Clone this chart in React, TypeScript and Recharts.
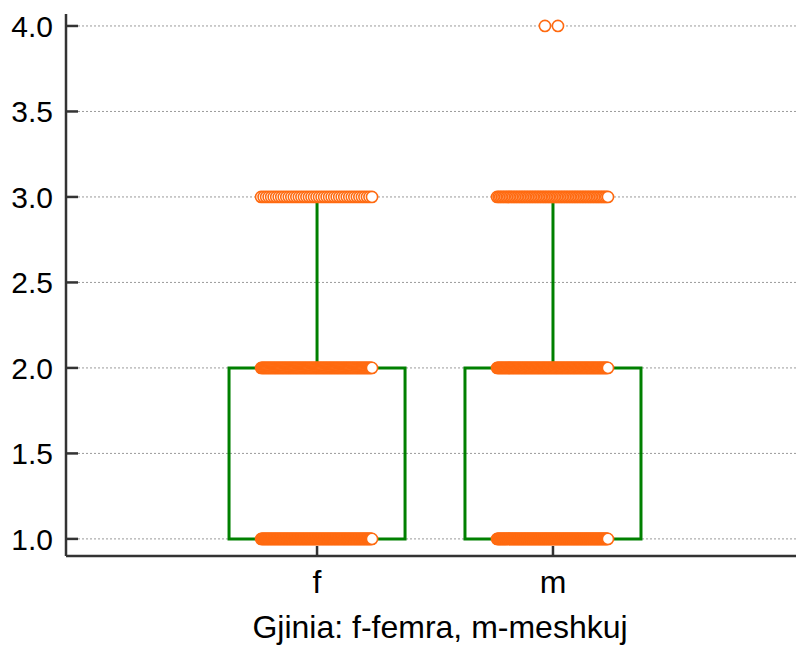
import React from 'react';
import {
  ComposedChart,
  Scatter,
  XAxis,
  YAxis,
  CartesianGrid,
  ReferenceArea,
  ReferenceLine,
} from 'recharts';

// groups on the x axis (numeric positions 1, 2)
const groups = ['f', 'm'];
const groupPos = [1, 2];

// box statistics per group
const q1 = [1, 1];
const q3 = [2, 2];
const whiskerLow = [1, 1];
const whiskerHigh = [3, 3];

// observed values and how many observations sit on each one
const levels = [1, 2, 3];
const countsF = [150, 120, 45];
const countsM = [170, 130, 70];

// outliers in group m (value, horizontal jitter)
const outlierValues = [4, 4];
const outlierJitter = [-0.034, 0.021];

const yTicks = [1.0, 1.5, 2.0, 2.5, 3.0, 3.5, 4.0];

const GREEN = '#008000';
const ORANGE = '#ff6a10';
const AXIS = '#333333';
const FONT = '"Liberation Sans", Arial, sans-serif';

const BOX_HALF = 0.373;
const STRIP_LEFT = -0.237;
const STRIP_RIGHT = 0.233;

type Pt = { x: number; y: number };

// spread the observations of one value evenly across a horizontal strip
function strip(center: number, value: number, n: number): Pt[] {
  const pts: Pt[] = [];
  for (let i = 0; i < n; i++) {
    const t = n === 1 ? 0.5 : i / (n - 1);
    pts.push({ x: center + STRIP_LEFT + t * (STRIP_RIGHT - STRIP_LEFT), y: value });
  }
  return pts;
}

const points: Pt[] = [];
[countsF, countsM].forEach((counts, g) => {
  levels.forEach((v, k) => points.push(...strip(groupPos[g], v, counts[k])));
});
outlierValues.forEach((v, i) => points.push({ x: groupPos[1] + outlierJitter[i], y: v }));

const Dot = (props: any) => (
  <circle cx={props.cx} cy={props.cy} r={5.6} fill="#ffffff" stroke={ORANGE} strokeWidth={1.6} />
);

export default function App() {
  return (
    <div style={{ position: 'absolute', left: 0, top: 0, background: '#fff' }}>
      <ComposedChart
        width={796}
        height={647}
        margin={{ top: 14, right: 0, bottom: 0, left: 0 }}
      >
        <CartesianGrid
          vertical={false}
          stroke="#9a9a9a"
          strokeDasharray="2 2"
          horizontalValues={yTicks}
        />
        <XAxis
          type="number"
          dataKey="x"
          domain={[-0.064, 3.03]}
          ticks={groupPos}
          tickFormatter={(v: number) => groups[groupPos.indexOf(v)] ?? ''}
          height={91}
          axisLine={{ stroke: AXIS, strokeWidth: 2.5 }}
          tickLine={{ stroke: AXIS, strokeWidth: 2.5 }}
          tickSize={-10}
          tickMargin={24}
          tick={{ fill: '#000', fontSize: 32, fontFamily: FONT }}
          allowDataOverflow
          label={{
            value: 'Gjinia: f-femra, m-meshkuj',
            position: 'insideBottom',
            offset: 9,
            dx: 9,
            fill: '#000',
            fontSize: 32,
            fontFamily: FONT,
          }}
        />
        <YAxis
          type="number"
          dataKey="y"
          domain={[0.9, 4.07]}
          ticks={yTicks}
          tickFormatter={(v: number) => v.toFixed(1)}
          width={66}
          axisLine={{ stroke: AXIS, strokeWidth: 2.5 }}
          tickLine={{ stroke: AXIS, strokeWidth: 2.5 }}
          tickSize={-12}
          tickMargin={25}
          tick={{ fill: '#000', fontSize: 30, fontFamily: FONT }}
          allowDataOverflow
        />
        {groupPos.map((c, g) => (
          <ReferenceArea
            key={`box-${g}`}
            x1={c - BOX_HALF}
            x2={c + BOX_HALF}
            y1={q1[g]}
            y2={q3[g]}
            fill="none"
            fillOpacity={0}
            stroke={GREEN}
            strokeWidth={3}
            ifOverflow="visible"
          />
        ))}
        {groupPos.map((c, g) => (
          <ReferenceLine
            key={`wh-${g}`}
            segment={[
              { x: c, y: q3[g] },
              { x: c, y: whiskerHigh[g] },
            ]}
            stroke={GREEN}
            strokeWidth={3}
          />
        ))}
        {groupPos.map((c, g) => (
          <ReferenceLine
            key={`wl-${g}`}
            segment={[
              { x: c, y: whiskerLow[g] },
              { x: c, y: q1[g] },
            ]}
            stroke={GREEN}
            strokeWidth={3}
          />
        ))}
        <Scatter data={points} shape={Dot} isAnimationActive={false} />
      </ComposedChart>
    </div>
  );
}
